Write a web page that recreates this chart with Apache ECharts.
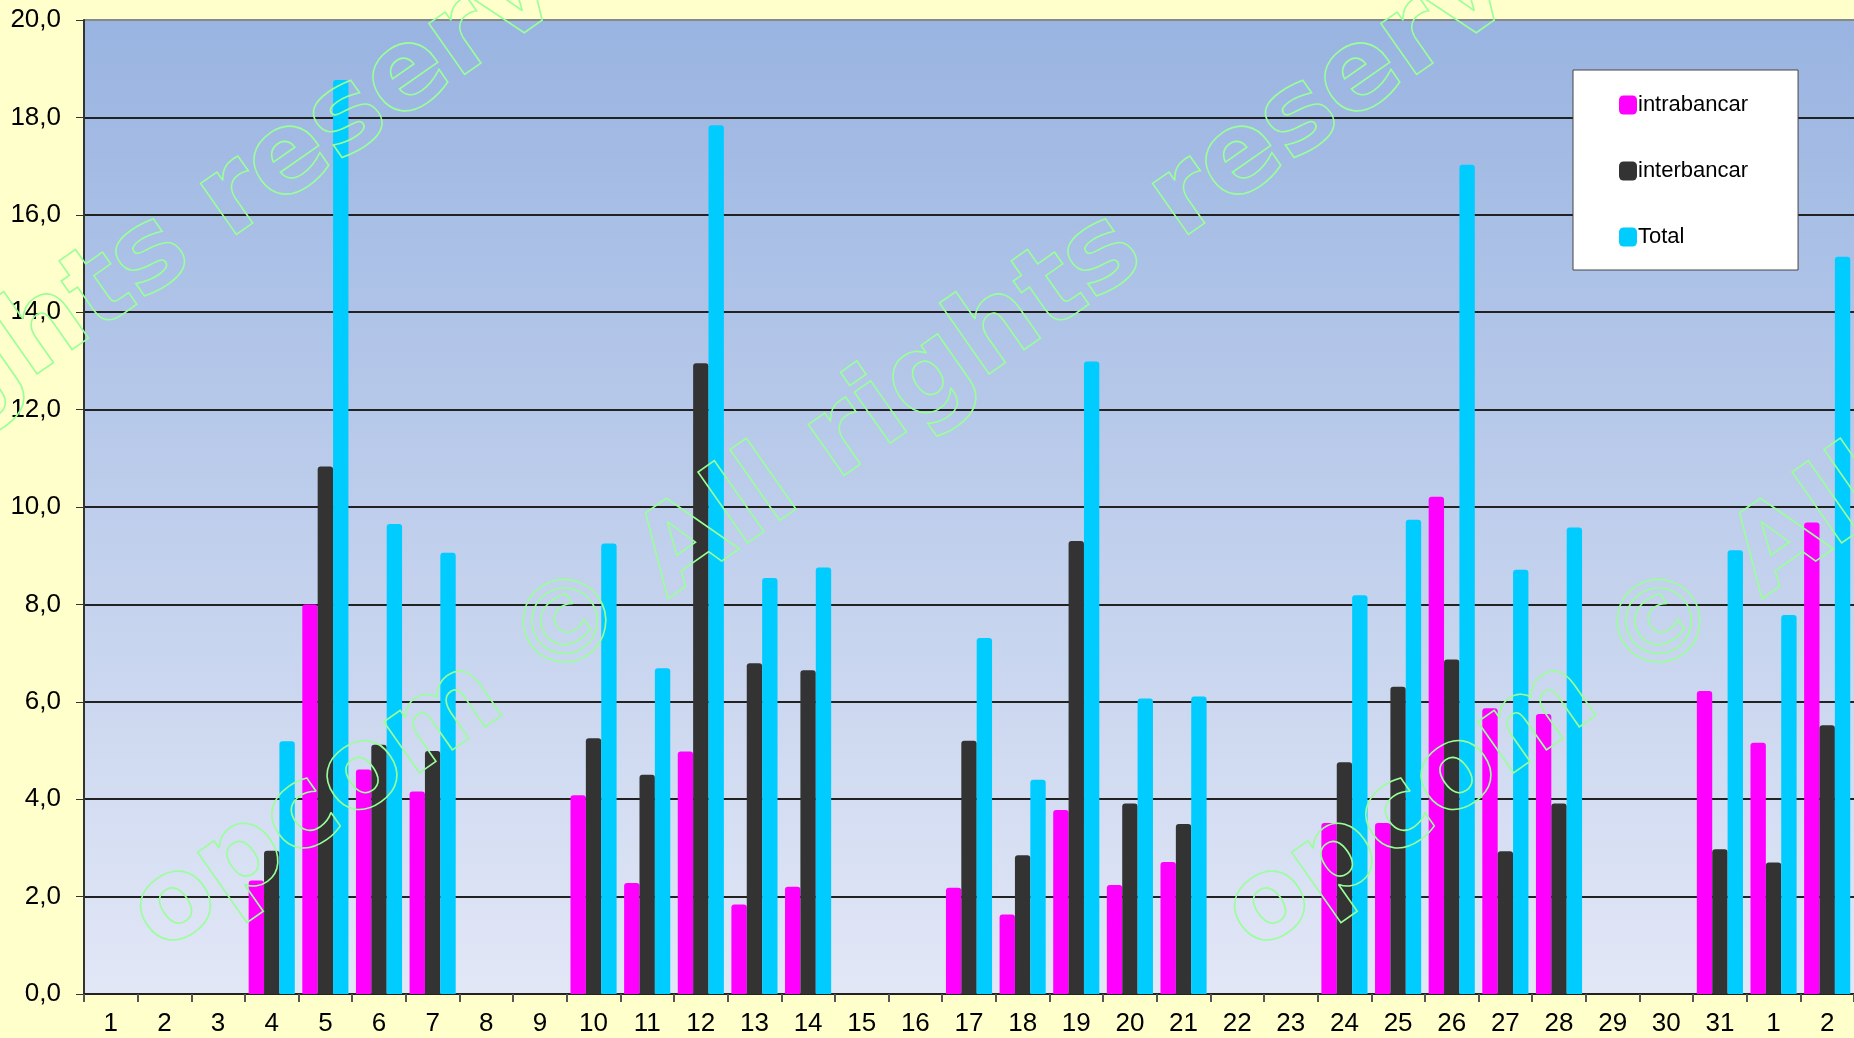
<!DOCTYPE html>
<html>
<head>
<meta charset="utf-8">
<title>intrabancar / interbancar</title>
<style>
  html, body { margin: 0; padding: 0; background: #ffffcc; }
  #chart { width: 1854px; height: 1038px; }
</style>
<script src="https://cdn.jsdelivr.net/npm/echarts@6/dist/echarts.min.js"></script>
</head>
<body>
<div id="chart"></div>
<script>
// zilele lunii (ultimele doua sunt din luna urmatoare)
const days = ['1', '2', '3', '4', '5', '6', '7', '8', '9', '10', '11', '12', '13', '14', '15', '16',
  '17', '18', '19', '20', '21', '22', '23', '24', '25', '26', '27', '28', '29', '30', '31', '1', '2']

const intrabancar = [null, null, null, 2.33, 8.0, 4.61, 4.16, null, null, 4.08, 2.28, 4.98, 1.84, 2.20, null, null,
  2.18, 1.63, 3.78, 2.24, 2.71, null, null, 3.51, 3.51, 10.21, 5.87, 5.75, null, null, 6.22, 5.16, 9.68]

const interbancar = [null, null, null, 2.94, 10.83, 5.12, 4.99, null, null, 5.25, 4.50, 12.95, 6.79, 6.65, null, null,
  5.20, 2.85, 9.30, 3.91, 3.49, null, null, 4.76, 6.31, 6.87, 2.93, 3.91, null, null, 2.97, 2.70, 5.52]

const total = [null, null, null, 5.19, 18.77, 9.65, 9.06, null, null, 9.25, 6.69, 17.84, 8.54, 8.76, null, null,
  7.31, 4.40, 12.99, 6.07, 6.11, null, null, 8.19, 9.74, 17.03, 8.71, 9.58, null, null, 9.11, 7.78, 15.14]

const yMin = 0
const yMax = 20
const yStep = 2

const watermark = 'opcom © All rights reserved'

const chart = echarts.init(document.getElementById('chart'))

// watermark repetat pe diagonala
const marks = [-775, 177, 1271].map(function (x) {
  return {
    type: 'text',
    x: x,
    y: 976,
    rotation: 35 * Math.PI / 180,
    z: 100,
    silent: true,
    style: {
      text: watermark,
      fontFamily: 'DejaVu Sans',
      fontWeight: 'bold',
      fontSize: 114,
      fill: 'none',
      stroke: '#99ff99',
      lineWidth: 1.6,
      textAlign: 'left',
      textVerticalAlign: 'bottom'
    }
  }
})

function barSeries (name, data, color) {
  return {
    name: name,
    type: 'bar',
    data: data,
    barGap: '0%',
    barCategoryGap: '14%',
    itemStyle: {
      color: color,
      borderRadius: [3, 3, 0, 0]
    }
  }
}

chart.setOption({
  backgroundColor: '#ffffcc',
  animation: false,
  textStyle: { fontFamily: 'Liberation Sans' },
  grid: {
    left: 84,
    top: 20,
    width: 1774,
    bottom: 44,
    show: true,
    borderColor: '#888',
    borderWidth: 0,
    backgroundColor: new echarts.graphic.LinearGradient(0, 0, 0, 1, [
      { offset: 0, color: '#99b4e1' },
      { offset: 1, color: '#e2e7f6' }
    ])
  },
  legend: {
    orient: 'vertical',
    left: 1573,
    top: 70,
    backgroundColor: '#fff',
    borderColor: '#444',
    borderWidth: 1,
    borderRadius: 0,
    padding: [24, 50, 22, 46],
    itemGap: 44,
    itemWidth: 18,
    itemHeight: 19,
    icon: 'roundRect',
    textStyle: { fontSize: 22, color: '#000', padding: [0, 0, 0, -4] },
    data: ['intrabancar', 'interbancar', 'Total']
  },
  xAxis: {
    type: 'category',
    data: days,
    axisLine: { lineStyle: { color: '#222', width: 2 } },
    axisTick: { show: true, length: 8, lineStyle: { color: '#555', width: 2 } },
    axisLabel: { fontSize: 26, color: '#000', margin: 17 },
    splitLine: { show: false }
  },
  yAxis: {
    type: 'value',
    min: yMin,
    max: yMax,
    interval: yStep,
    axisLine: { show: true, lineStyle: { color: '#333', width: 2 } },
    axisTick: { show: true, length: 8, lineStyle: { color: '#333' } },
    axisLabel: {
      fontSize: 26,
      color: '#000',
      margin: 23,
      formatter: function (v) { return v.toFixed(1).replace('.', ',') }
    },
    splitLine: {
      lineStyle: {
        color: ['#222', '#222', '#222', '#222', '#222', '#222', '#222', '#222', '#222', '#222', '#888'],
        width: 2
      }
    }
  },
  series: [
    barSeries('intrabancar', intrabancar, '#ff00ff'),
    barSeries('interbancar', interbancar, '#333333'),
    barSeries('Total', total, '#00ccff')
  ],
  graphic: marks
})
</script>
</body>
</html>
